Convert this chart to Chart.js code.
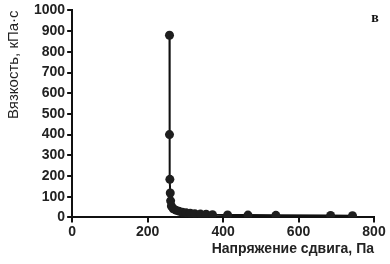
<!DOCTYPE html>
<html>
<head>
<meta charset="utf-8">
<script src="https://cdn.jsdelivr.net/npm/chart.js@4/dist/chart.umd.min.js"></script>
<style>
  html, body { margin: 0; padding: 0; background: #fff; }
  #wrap { width: 390px; height: 264px; }
</style>
</head>
<body>
<div id="wrap"><canvas id="viscChart"></canvas></div>
<script>
// напряжение сдвига, Па
const shearStress = [258, 258, 259, 260, 261, 263, 268, 275, 283, 292, 302, 313, 325, 340, 355, 372, 412, 466, 540, 685, 743];
// вязкость, кПа·с
const viscosity = [880, 400, 184, 118, 80, 55, 42, 35, 30, 25, 22, 20, 18, 16, 15, 13, 12, 11, 10, 9, 8];

const xTicks = [0, 200, 400, 600, 800];
const yTicks = [0, 100, 200, 300, 400, 500, 600, 700, 800, 900, 1000];

const points = shearStress.map((x, i) => ({ x: x, y: viscosity[i] }));

// буква "в" в правом верхнем углу
const panelLetter = {
    id: 'panelLetter',
    afterDraw(chart) {
        const ctx = chart.ctx;
        ctx.save();
        ctx.font = 'bold 14px "Liberation Serif", serif';
        ctx.fillStyle = '#111';
        ctx.textAlign = 'center';
        ctx.textBaseline = 'middle';
        ctx.fillText('в', 375, 18);
        ctx.restore();
    }
};

const ctx = document.getElementById('viscChart').getContext('2d');
const viscChart = new Chart(ctx, {
    type: 'scatter',
    data: {
        datasets: [{
            data: points,
            showLine: true,
            borderColor: '#111',
            borderWidth: 2,
            backgroundColor: '#1e1e1e',
            pointRadius: 4.5,
            pointBorderWidth: 0
        }]
    },
    options: {
        responsive: true,
        maintainAspectRatio: false,
        animation: false,
        layout: { padding: { top: 4, right: 16, left: 5, bottom: 6 } },
        plugins: {
            legend: { display: false },
            tooltip: { enabled: false }
        },
        scales: {
            x: {
                type: 'linear',
                min: 0,
                max: 800,
                afterBuildTicks: axis => { axis.ticks = xTicks.map(v => ({ value: v })); },
                border: { color: '#111', width: 2 },
                grid: { drawOnChartArea: false, color: '#111', tickLength: 5, lineWidth: 2 },
                ticks: {
                    color: '#222',
                    font: { family: '"Liberation Sans", Arial', size: 14, weight: 'bold' },
                    padding: 1,
                    maxRotation: 0,
                    callback: v => String(v)
                },
                title: {
                    display: true,
                    text: 'Напряжение сдвига, Па',
                    align: 'end',
                    color: '#222',
                    font: { family: '"Liberation Sans", Arial', size: 14, weight: 'bold' },
                    padding: { top: 0, bottom: 0 }
                }
            },
            y: {
                type: 'linear',
                min: 0,
                max: 1000,
                afterBuildTicks: axis => { axis.ticks = yTicks.map(v => ({ value: v })); },
                border: { color: '#111', width: 2 },
                grid: { drawOnChartArea: false, color: '#111', tickLength: 5, lineWidth: 2 },
                ticks: {
                    color: '#222',
                    font: { family: '"Liberation Sans", Arial', size: 14, weight: 'bold' },
                    padding: 2,
                    callback: v => String(v)
                },
                title: {
                    display: true,
                    text: 'Вязкость, кПа·с',
                    align: 'end',
                    color: '#222',
                    font: { family: '"Liberation Sans", Arial', size: 15 },
                    padding: { top: 0, bottom: 9 }
                }
            }
        }
    },
    plugins: [panelLetter]
});
</script>
</body>
</html>
